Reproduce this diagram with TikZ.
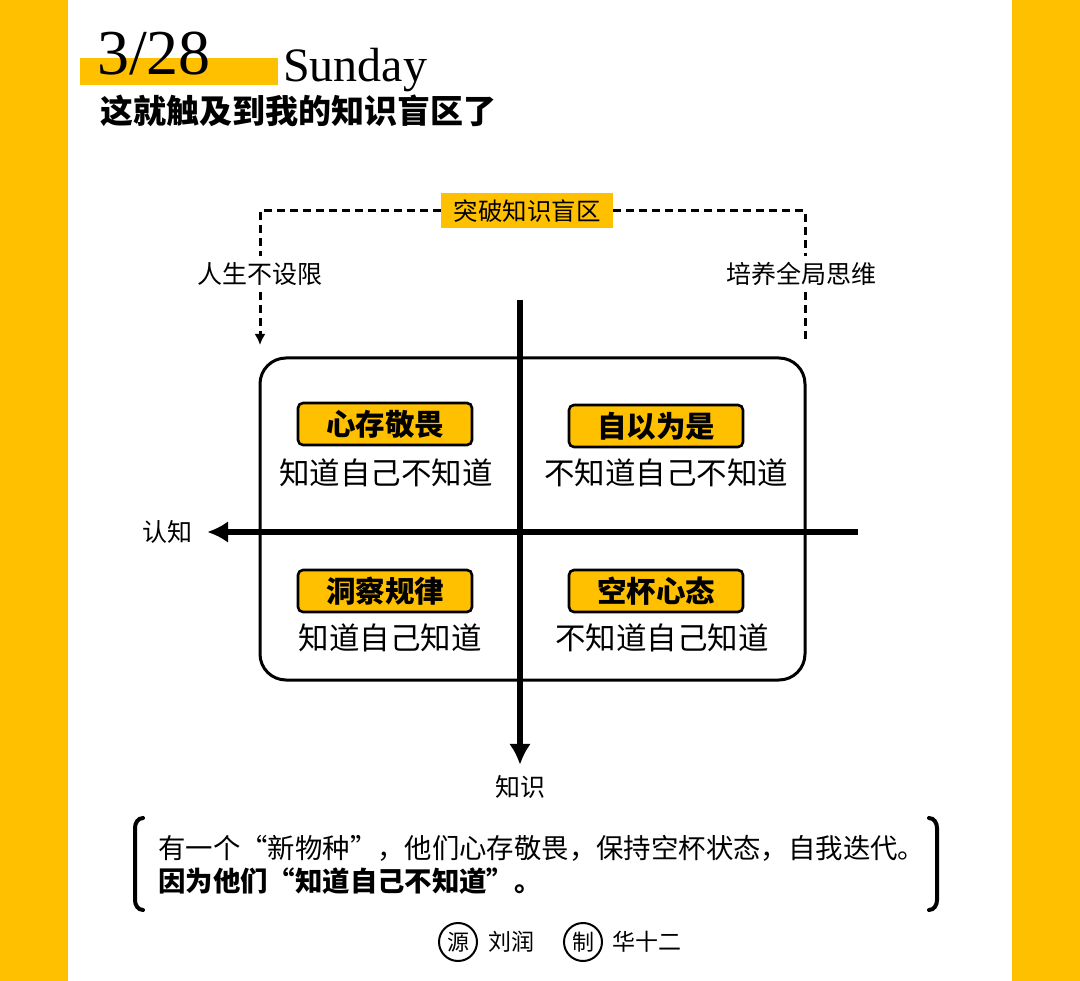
\documentclass[tikz,border=0pt]{standalone}
\usepackage{fontspec}
\setmainfont{Liberation Serif}
\newfontfamily\cjk{Noto Sans CJK SC}
\usetikzlibrary{arrows.meta}
\definecolor{mango}{HTML}{FFC000}
\newcommand{\fs}[1]{\fontsize{#1}{#1}\selectfont}
\begin{document}
\begin{tikzpicture}[x=1pt,y=-1pt,
  dashline/.style={line width=3pt,dash pattern=on 8pt off 5pt},
  axisline/.style={line width=6pt,-{Latex[length=21pt,width=22pt]}},
  tagbox/.style={fill=mango,draw=black,line width=2.6pt,rounded corners=5pt,minimum width=174pt,minimum height=42pt,inner sep=0pt,font=\cjk\bfseries\fs{29.5}},
  quadtext/.style={inner sep=0pt,font=\cjk\fs{30.5}},
  sidelabel/.style={inner sep=0pt,minimum height=36pt,font=\cjk\fs{25}}]
\useasboundingbox (0,0) rectangle (1080,981);
\fill[white] (0,0) rectangle (1080,981);
\fill[mango] (0,0) rectangle (68,981);
\fill[mango] (1012,0) rectangle (1080,981);
\fill[mango] (80,58) rectangle (278,85);
\node[anchor=base west,inner sep=0pt,font=\fs{64}] (date) at (97,75) {3/28};
\node[anchor=base west,inner sep=0pt,font=\fs{48}] (day) at (283,82) {Sunday};
\node[anchor=west,inner sep=0pt,font=\cjk\bfseries\fs{33}] (title) at (100,111) {这就触及到我的知识盲区了};
\node[fill=mango,minimum width=172pt,minimum height=35pt,inner sep=0pt,font=\cjk\fs{24.5}] (brk) at (527,211) {突破知识盲区};
\coordinate (tl) at (260,211);
\coordinate (tr) at (805,211);
\coordinate (tlend) at (260,345);
\coordinate (trend) at (805,340);
\node[sidelabel] (life) at (260,274) {人生不设限};
\node[sidelabel] (whole) at (801,274) {培养全局思维};
\draw[dashline] (brk.west) -- (tl) -- (life.north);
\draw[dashline,-{Latex[length=11pt,width=11pt]}] (life.south) -- (tlend);
\draw[dashline] (brk.east) -- (tr) -- (tr |- whole.north);
\draw[dashline] (tr |- whole.south) -- (trend);
\node[draw=black,line width=3pt,rounded corners=26pt,minimum width=545pt,minimum height=322pt,inner sep=0pt] (frame) at (532.5,519) {};
\coordinate (vtop) at (520,300);
\coordinate (hright) at (858,532);
\node[inner sep=0pt,minimum height=44pt,font=\cjk\fs{25}] (know) at (520,787) {知识};
\node[inner sep=0pt,minimum width=80pt,font=\cjk\fs{25}] (cog) at (167,532) {认知};
\draw[axisline] (vtop) -- (know.north);
\draw[axisline] (hright) -- (cog.east);
\node[tagbox] (awe) at (385,424) {心存敬畏};
\node[tagbox] (self) at (656,426) {自以为是};
\node[tagbox] (law) at (385,591) {洞察规律};
\node[tagbox] (cup) at (656,591) {空杯心态};
\node[quadtext] (awet) at (386,473) {知道自己不知道};
\node[quadtext] (selft) at (666,473) {不知道自己不知道};
\node[quadtext] (lawt) at (390,638) {知道自己知道};
\node[quadtext] (cupt) at (662,638) {不知道自己知道};
\draw[line width=4pt,line cap=round] (143,818) to[out=180,in=90] (135,828) -- (135,900) to[out=-90,in=180] (143,910);
\draw[line width=4pt,line cap=round] (929,818) to[out=0,in=90] (937,828) -- (937,900) to[out=-90,in=0] (929,910);
\node[anchor=west,inner sep=0pt,font=\cjk\fs{27.4}] (line1) at (158,848) {有一个“新物种”，他们心存敬畏，保持空杯状态，自我迭代。};
\node[anchor=west,inner sep=0pt,font=\cjk\bfseries\fs{27.4}] (line2) at (158,881) {因为他们“知道自己不知道”。};
\node[draw,circle,line width=2pt,minimum size=38pt,inner sep=0pt,font=\cjk\fs{22}] (src) at (458,942) {源};
\node[anchor=west,inner sep=0pt,font=\cjk\fs{23}] (author) at (488,942) {刘润};
\node[draw,circle,line width=2pt,minimum size=38pt,inner sep=0pt,font=\cjk\fs{22}] (made) at (583,942) {制};
\node[anchor=west,inner sep=0pt,font=\cjk\fs{23}] (maker) at (612,942) {华十二};
\end{tikzpicture}
\end{document}
